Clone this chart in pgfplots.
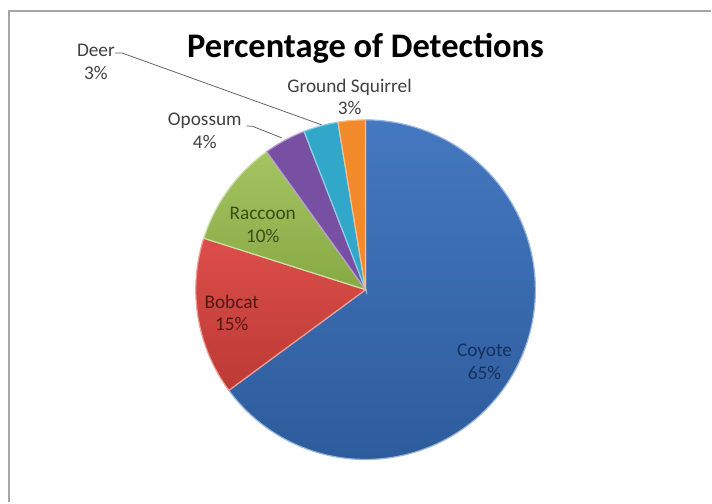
\documentclass[border=0pt]{standalone}
\usepackage{fontspec}
\setmainfont{Carlito}
\usepackage{pgfplots}
\pgfplotsset{compat=1.18}
\definecolor{cCoyT}{HTML}{4478C0}
\definecolor{cCoyB}{HTML}{2D5C9C}
\definecolor{cBobT}{HTML}{DC4E49}
\definecolor{cBobB}{HTML}{BC3A35}
\definecolor{cRacT}{HTML}{A4C462}
\definecolor{cRacB}{HTML}{87A943}
\definecolor{cOpo}{HTML}{7750A4}
\definecolor{cDee}{HTML}{31A8CA}
\definecolor{cGS}{HTML}{F2892A}
\definecolor{tCoy}{HTML}{172F5A}
\definecolor{tBob}{HTML}{551614}
\definecolor{tRac}{HTML}{3B4B1A}
\definecolor{tOut}{HTML}{404040}
\begin{document}
\begin{tikzpicture}
% percentages (clockwise from 12 o'clock)
\def\pCoy{64.9}\def\pBob{15.0}\def\pRac{10.2}\def\pOpo{4.0}\def\pDee{3.3}\def\pGS{2.6}
\def\cx{366}\def\cy{290}\def\R{170}
\pgfmathsetmacro\aA{90}
\pgfmathsetmacro\aB{\aA-3.6*\pCoy}
\pgfmathsetmacro\aC{\aB-3.6*\pBob}
\pgfmathsetmacro\aD{\aC-3.6*\pRac}
\pgfmathsetmacro\aE{\aD-3.6*\pOpo}
\pgfmathsetmacro\aF{\aE-3.6*\pDee}
\pgfmathsetmacro\aG{\aF-3.6*\pGS}
\begin{axis}[
  scale only axis, width=712pt, height=503pt,
  xmin=0, xmax=712, ymin=0, ymax=503, y dir=reverse,
  hide axis, clip=false,
]
\path (axis cs:0,0) rectangle (axis cs:712,503);
\draw[gray!70, line width=1.6pt] (axis cs:9,503) -- (axis cs:9,11) -- (axis cs:712,11);

\addplot[draw=cCoyT!55!white, line width=1.2pt, top color=cCoyT, bottom color=cCoyB, domain=\aB:\aA, samples=120, variable=\t]
  ({\cx+\R*cos(\t)}, {\cy-\R*sin(\t)}) -- (axis cs:\cx,\cy) -- cycle;
\addplot[draw=cBobT!55!white, line width=1.2pt, top color=cBobT, bottom color=cBobB, domain=\aC:\aB, samples=40, variable=\t]
  ({\cx+\R*cos(\t)}, {\cy-\R*sin(\t)}) -- (axis cs:\cx,\cy) -- cycle;
\addplot[draw=cRacT!55!white, line width=1.2pt, top color=cRacT, bottom color=cRacB, domain=\aD:\aC, samples=30, variable=\t]
  ({\cx+\R*cos(\t)}, {\cy-\R*sin(\t)}) -- (axis cs:\cx,\cy) -- cycle;
\addplot[draw=cOpo!55!white, line width=1.2pt, fill=cOpo, domain=\aE:\aD, samples=15, variable=\t]
  ({\cx+\R*cos(\t)}, {\cy-\R*sin(\t)}) -- (axis cs:\cx,\cy) -- cycle;
\addplot[draw=cDee!55!white, line width=1.2pt, fill=cDee, domain=\aF:\aE, samples=15, variable=\t]
  ({\cx+\R*cos(\t)}, {\cy-\R*sin(\t)}) -- (axis cs:\cx,\cy) -- cycle;
\addplot[draw=cGS!55!white, line width=1.2pt, fill=cGS, domain=\aG:\aF, samples=15, variable=\t]
  ({\cx+\R*cos(\t)}, {\cy-\R*sin(\t)}) -- (axis cs:\cx,\cy) -- cycle;

% leader lines
\draw[gray!80!black, line width=0.8pt] (axis cs:115,53) -- (axis cs:122,53) -- (axis cs:322,125);
\draw[gray!80!black, line width=0.8pt] (axis cs:247,126) -- (axis cs:253,126.5) -- (axis cs:282,138);

% title
\node[font=\fontsize{34.5}{38}\selectfont\bfseries, anchor=base] at (axis cs:366,58) {Percentage of Detections};

% labels
\begin{scope}[every node/.style={align=center, font=\fontsize{19.3}{22.5}\selectfont}]
\node[text=tOut] at (axis cs:96,62) {Deer\\3\%};
\node[text=tOut] at (axis cs:205,131) {Opossum\\4\%};
\node[text=tOut] at (axis cs:350,97) {Ground Squirrel\\3\%};
\node[text=tRac] at (axis cs:263,225) {Raccoon\\10\%};
\node[text=tBob] at (axis cs:232,313) {Bobcat\\15\%};
\node[text=tCoy] at (axis cs:485,362) {Coyote\\65\%};
\end{scope}
\end{axis}
\end{tikzpicture}
\end{document}
